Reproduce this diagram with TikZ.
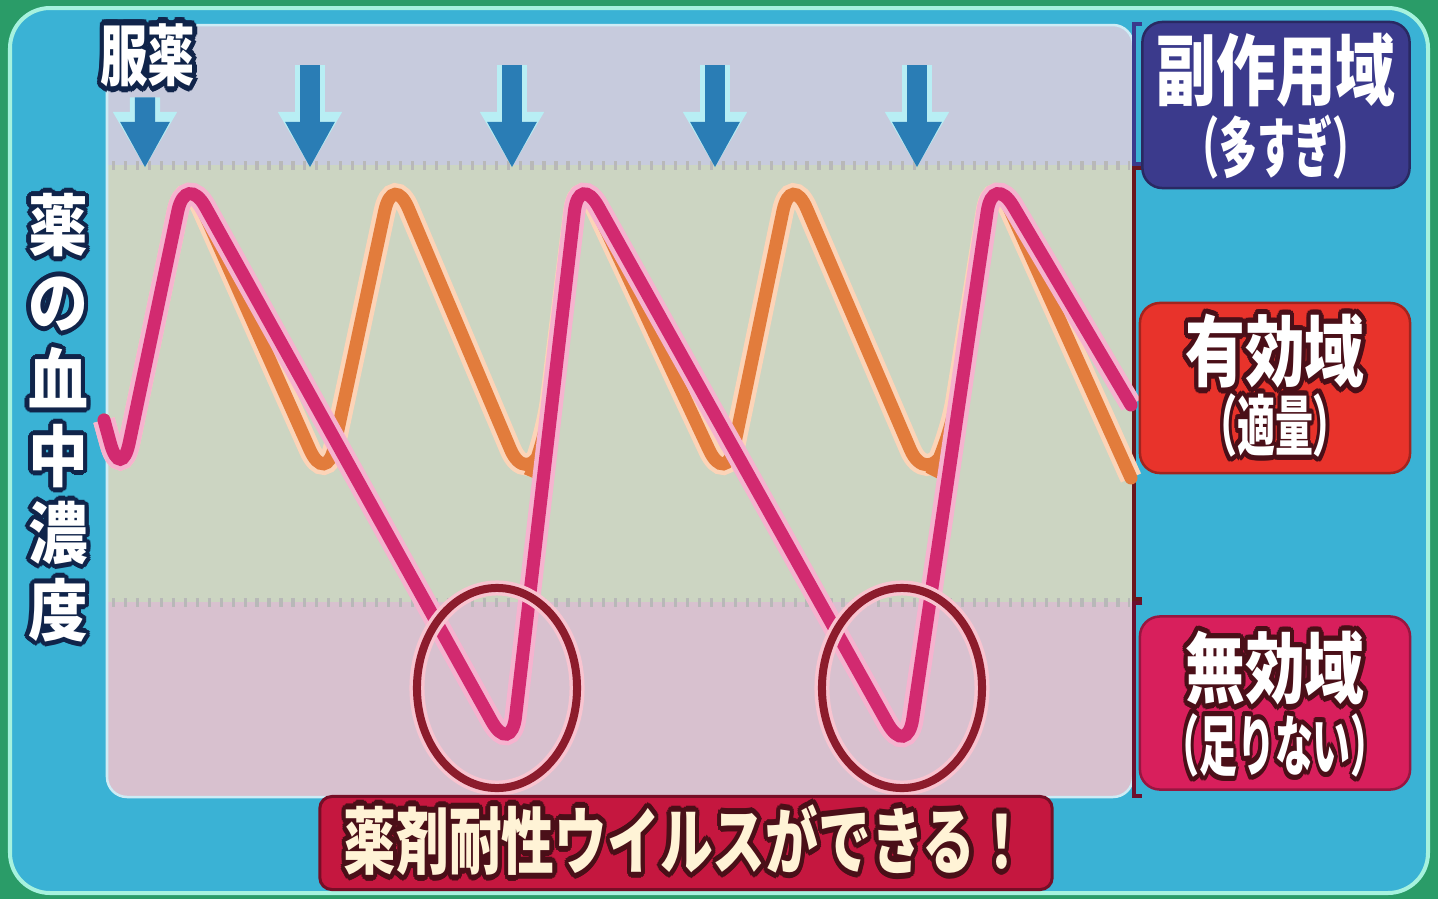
\documentclass[tikz,border=0pt]{standalone}
\usepackage{fontspec}
\usepackage{graphicx}
\usepackage{contour}
\usetikzlibrary{arrows.meta,shapes.geometric}
\newfontfamily\jpfont{Noto Sans CJK JP}
\contourlength{1.2pt}

\definecolor{frameGreen}{HTML}{2A9C68}
\definecolor{frameMint}{HTML}{A6F2DE}
\definecolor{panelCyan}{HTML}{3AB2D5}
\definecolor{zoneHigh}{HTML}{C7CBDD}
\definecolor{zoneMid}{HTML}{CCD5C2}
\definecolor{zoneLow}{HTML}{D8C1CF}
\definecolor{doseBlue}{HTML}{2A7DB5}
\definecolor{doseGlow}{HTML}{B8EEF4}
\definecolor{lateMag}{HTML}{D22A70}
\definecolor{lateGlow}{HTML}{F6B3CF}
\definecolor{rightOr}{HTML}{E27C3C}
\definecolor{rightGlow}{HTML}{FCD4B8}
\definecolor{ringRed}{HTML}{8C1C2C}
\definecolor{ringGlow}{HTML}{F8C4D0}
\definecolor{sideNavy}{HTML}{3B3A8C}
\definecolor{effRed}{HTML}{E8332B}
\definecolor{lowCrimson}{HTML}{D81F5C}
\definecolor{warnRed}{HTML}{C5173F}
\definecolor{inkNavy}{HTML}{10244A}
\definecolor{inkDark}{HTML}{4A0F18}
\definecolor{cream}{HTML}{FFF3D6}

\newcommand{\axisch}[1]{\scalebox{1}[1.12]{\contour{inkNavy}{#1}}}

\begin{document}
\begin{tikzpicture}[x=0.01cm,y=-0.01cm,
  every node/.style={inner sep=0pt,font=\jpfont\bfseries},
  zonebox/.style={rounded corners=0.2cm,minimum width=2.7cm,minimum height=1.7cm,line width=0.025cm},
  mainlbl/.style={text=white,font=\jpfont\bfseries\fontsize{17}{20}\selectfont},
  sublbl/.style={text=white,font=\jpfont\bfseries\fontsize{15}{18}\selectfont},
  gridmark/.style={line width=0.09cm,black!28,dash pattern=on 0.9pt off 2.5pt},
  brk/.style={line width=0.04cm},
  dosearrow/.style={doseBlue,line width=0.2cm,-{Triangle[width=0.46cm,length=0.46cm]},
    preaction={draw=doseGlow,line width=0.3cm,-{Triangle[width=0.6cm,length=0.56cm]}}},
  rightline/.style={rightOr,line width=0.13cm,rounded corners=0.4cm,line cap=round,
    preaction={draw=rightGlow,line width=0.22cm}},
  lateline/.style={lateMag,line width=0.13cm,rounded corners=0.4cm,line cap=round,
    preaction={draw=lateGlow,line width=0.22cm}},
  ring/.style={ellipse,draw=ringRed,line width=0.08cm,minimum width=1.6cm,minimum height=2cm,
    preaction={draw=ringGlow,line width=0.15cm}}
]
\useasboundingbox (0,0) rectangle (1438,899);
\fill[frameGreen] (0,0) rectangle (1438,899);
\fill[panelCyan,draw=frameMint,line width=0.04cm,rounded corners=0.4cm] (10,8) rectangle (1428,893);

% zones
\begin{scope}
\clip[rounded corners=0.2cm] (107,25) rectangle (1133,797);
\fill[zoneHigh] (107,25) rectangle (1133,165);
\fill[zoneMid] (107,165) rectangle (1133,602);
\fill[zoneLow] (107,602) rectangle (1133,797);
\end{scope}
\draw[white!75!panelCyan,line width=0.025cm,rounded corners=0.2cm] (107,25) rectangle (1133,797);
\draw[gridmark] (112,165) -- (1130,165);
\draw[gridmark] (112,602) -- (1130,602);

% brackets
\draw[brk,sideNavy] (1142,24) -- (1134,24) -- (1134,164) -- (1142,164);
\draw[brk,inkDark!80!effRed] (1142,168) -- (1134,168) -- (1134,599) -- (1142,599);
\draw[brk,lowCrimson!50!black] (1142,603) -- (1134,603) -- (1134,796) -- (1142,796);

% curves
\draw[rightline] (104,420) -- (121,482) -- (186,172) -- (326,486) -- (393,172) -- (526,486)
  -- (546,440) -- (579,172) -- (726,486) -- (791,172) -- (926,486) -- (950,440)
  -- (993,172) -- (1131,478);
\draw[lateline] (104,420) -- (121,482) -- (186,172) -- (511,756) -- (579,172)
  -- (907,758) -- (993,172) -- (1131,405);

\node[ring] (ring1) at (497,688) {};
\node[ring] (ring2) at (902,688) {};

% dosing
\node[text=white,font=\jpfont\bfseries\fontsize{13.5}{16}\selectfont] (doseLbl) at (148,58)
  {\scalebox{1}[1.4]{\contour{inkNavy}{服薬}}};
\coordinate (doseTip1) at (145,168);
\draw[dosearrow] ([xshift=-0.03cm]doseLbl.south) ++(0,4) -- (doseTip1);
\foreach \n/\x in {2/310,3/512,4/715,5/917}{
  \coordinate (doseTop\n) at (\x,65);
  \coordinate (doseTip\n) at (\x,168);
  \draw[dosearrow] (doseTop\n) -- (doseTip\n);
}

% axis
\node[text=white,align=center,font=\jpfont\bfseries\fontsize{17}{21.9}\selectfont] (axisLbl) at (58,420)
  {\axisch{薬}\\\axisch{の}\\\axisch{血}\\\axisch{中}\\\axisch{濃}\\\axisch{度}};

% zone labels
\node[zonebox,fill=sideNavy,draw=sideNavy!70!black,minimum width=2.67cm,minimum height=1.66cm] (sideBox) at (1276,105) {};
\node[mainlbl] (sideTxt) at (1276,70) {\scalebox{1}[1.3]{副作用域}};
\node[sublbl] (sideSub) at (1276,147) {\scalebox{0.72}[1.25]{（多すぎ）}};

\node[zonebox,fill=effRed,draw=effRed!70!black] (effBox) at (1275,388) {};
\node[mainlbl] (effTxt) at (1275,354) {\scalebox{1}[1.3]{\contour{inkDark}{有効域}}};
\node[sublbl] (effSub) at (1275,428) {\scalebox{0.72}[1.25]{\contour{inkDark}{（適量）}}};

\node[zonebox,fill=lowCrimson,draw=lowCrimson!70!black,minimum height=1.73cm] (lowBox) at (1275,703) {};
\node[mainlbl] (lowTxt) at (1275,671) {\scalebox{1}[1.3]{\contour{inkDark}{無効域}}};
\node[sublbl] (lowSub) at (1275,748) {\scalebox{0.72}[1.25]{\contour{inkDark}{（足りない）}}};

% banner
\node[fill=warnRed,draw=warnRed!60!black,line width=0.03cm,rounded corners=0.12cm,
  minimum width=7.32cm,minimum height=0.93cm,text=cream,
  font=\jpfont\bfseries\fontsize{15}{18}\selectfont] (warnBanner) at (686,843)
  {\scalebox{1}[1.38]{\contour{inkDark}{薬剤耐性ウイルスができる！}}};
\end{tikzpicture}
\end{document}
